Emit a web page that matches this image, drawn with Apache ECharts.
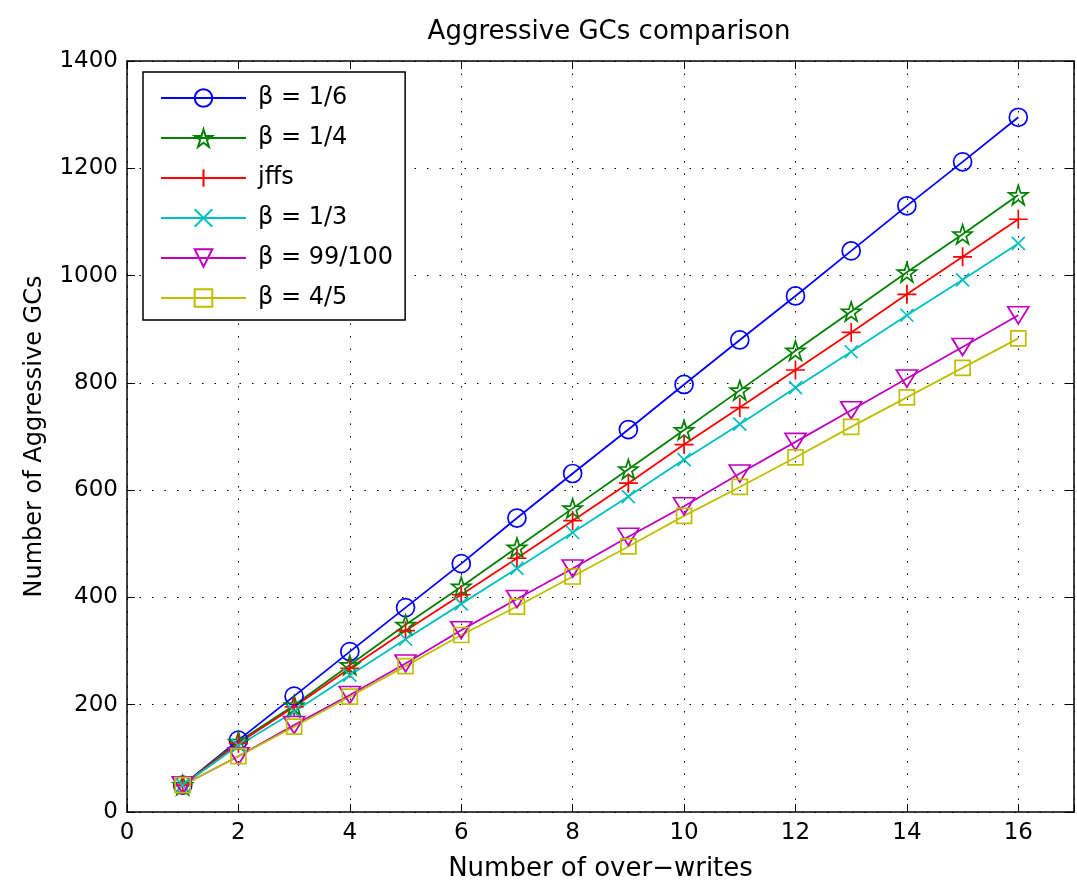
<!DOCTYPE html>
<html>
<head>
<meta charset="utf-8">
<script src="https://cdn.jsdelivr.net/npm/echarts@6/dist/echarts.min.js"></script>
<style>
    html, body { margin: 0; padding: 0; background: #fff; }
    #main_chart { width: 1077px; height: 888px; }
</style>
</head>
<body>
<div id="main_chart"></div>
<script>
// x: number of over-writes
const overwrites = [1, 2, 3, 4, 5, 6, 7, 8, 9, 10, 11, 12, 13, 14, 15, 16];
// y: number of aggressive GCs
const betaOneSixth = [50, 134, 216, 299, 381, 463, 548, 631, 713, 797, 880, 962, 1046, 1130, 1212, 1295];
const betaOneQuarter = [50, 131, 199, 274, 349, 420, 493, 566, 639, 712, 786, 860, 933, 1006, 1077, 1150];
const jffs = [50, 128, 196, 268, 338, 405, 473, 543, 613, 685, 754, 824, 894, 965, 1035, 1105];
const betaOneThird = [50, 124, 187, 255, 322, 388, 454, 521, 588, 657, 723, 791, 858, 926, 992, 1060];
const betaNinetyNine = [50, 104, 162, 218, 277, 339, 397, 454, 513, 570, 631, 690, 749, 808, 867, 926];
const betaFourFifths = [50, 104, 159, 215, 272, 330, 383, 439, 495, 552, 606, 661, 718, 773, 828, 883];

const seriesNames = ['β = 1/6', 'β = 1/4', 'jffs', 'β = 1/3', 'β = 99/100', 'β = 4/5'];
const xTicks = { min: 0, max: 17, interval: 2 };
const yTicks = { min: 0, max: 1400, interval: 200 };

const FONT = 'DejaVu Sans';

// marker shapes (matlab style, hollow)
const CIRCLE = 'path://M100,50A50,50 0 1 1 0,50A50,50 0 1 1 100,50Z';
const STAR = 'path://M50,0L61.23,34.55L97.55,34.55L68.17,55.9L79.39,90.45L50,69.1L20.61,90.45L31.83,55.9L2.45,34.55L38.77,34.55Z';
const PLUS = 'path://M0,50L100,50M50,0L50,100';
const CROSS = 'path://M0,0L100,100M100,0L0,100';
const TRI_DOWN = 'path://M0,0L100,0L50,85Z';
const SQUARE = 'path://M0,0L100,0L100,100L0,100Z';

let myChart = echarts.init(document.getElementById('main_chart'));

function makeSeries(name, values, color, symbol, size) {
    return {
        name: name,
        type: 'line',
        data: overwrites.map((x, i) => [x, values[i]]),
        symbol: symbol,
        symbolSize: size,
        showAllSymbol: true,
        animation: false,
        lineStyle: { color: color, width: 1.8 },
        itemStyle: { color: 'rgba(0,0,0,0)', borderColor: color, borderWidth: 1.7 },
        emphasis: { disabled: true }
    };
}

function frameAxis(position, ticks) {
    return {
        type: 'value',
        position: position,
        min: ticks.min,
        max: ticks.max,
        interval: ticks.interval,
        axisLine: { show: true, onZero: false, lineStyle: { color: '#000', width: 1.5 } },
        axisTick: { show: true, inside: true, length: 8, lineStyle: { color: '#000', width: 1 } },
        axisLabel: { show: false },
        splitLine: { show: false }
    };
}

let option = {
    backgroundColor: '#fff',
    animation: false,
    title: {
        text: 'Aggressive GCs comparison',
        left: 604,
        top: 14,
        textAlign: 'center',
        textStyle: { fontFamily: FONT, fontSize: 26, fontWeight: 'normal', color: '#000' }
    },
    grid: { left: 127, top: 61, right: -7, bottom: 76, containLabel: false },
    legend: {
        orient: 'vertical',
        left: 143,
        top: 72,
        width: 262,
        padding: [14, 12, 10, 17],
        itemWidth: 85,
        itemHeight: 22,
        itemGap: 16,
        backgroundColor: '#fff',
        borderColor: '#000',
        borderWidth: 1.5,
        textStyle: { fontFamily: FONT, fontSize: 24, color: '#000', padding: [0, 0, 0, 7] },
        data: seriesNames
    },
    xAxis: [{
        type: 'value',
        position: 'bottom',
        min: xTicks.min,
        max: xTicks.max,
        interval: xTicks.interval,
        name: 'Number of over−writes',
        nameLocation: 'middle',
        nameGap: 44,
        nameTextStyle: { fontFamily: FONT, fontSize: 26, color: '#000' },
        axisLine: { show: true, onZero: false, lineStyle: { color: '#000', width: 1.5 } },
        axisTick: { show: true, inside: true, length: 8, lineStyle: { color: '#000', width: 1 } },
        axisLabel: {
            fontFamily: FONT, fontSize: 23, color: '#000', margin: 10,
            formatter: v => (v === xTicks.max ? '' : String(v))
        },
        splitLine: { show: true, lineStyle: { color: '#000', width: 1, type: [1.5, 11] } }
    }, frameAxis('top', xTicks)],
    yAxis: [{
        type: 'value',
        position: 'left',
        min: yTicks.min,
        max: yTicks.max,
        interval: yTicks.interval,
        name: 'Number of Aggressive GCs',
        nameLocation: 'middle',
        nameGap: 80,
        nameTextStyle: { fontFamily: FONT, fontSize: 24, color: '#000' },
        axisLine: { show: true, onZero: false, lineStyle: { color: '#000', width: 1.5 } },
        axisTick: { show: true, inside: true, length: 8, lineStyle: { color: '#000', width: 1 } },
        axisLabel: { fontFamily: FONT, fontSize: 23, color: '#000', margin: 9, formatter: v => String(v) },
        splitLine: { show: true, lineStyle: { color: '#000', width: 1, type: [1.5, 11] } }
    }, frameAxis('right', yTicks)],
    series: [
        makeSeries(seriesNames[0], betaOneSixth, '#0000ff', CIRCLE, 18),
        makeSeries(seriesNames[1], betaOneQuarter, '#008000', STAR, 19),
        makeSeries(seriesNames[2], jffs, '#ff0000', PLUS, 19),
        makeSeries(seriesNames[3], betaOneThird, '#00bfbf', CROSS, 13),
        makeSeries(seriesNames[4], betaNinetyNine, '#bf00bf', TRI_DOWN, [21, 17]),
        makeSeries(seriesNames[5], betaFourFifths, '#bfbf00', SQUARE, 15)
    ]
};

myChart.setOption(option);
</script>
</body>
</html>
